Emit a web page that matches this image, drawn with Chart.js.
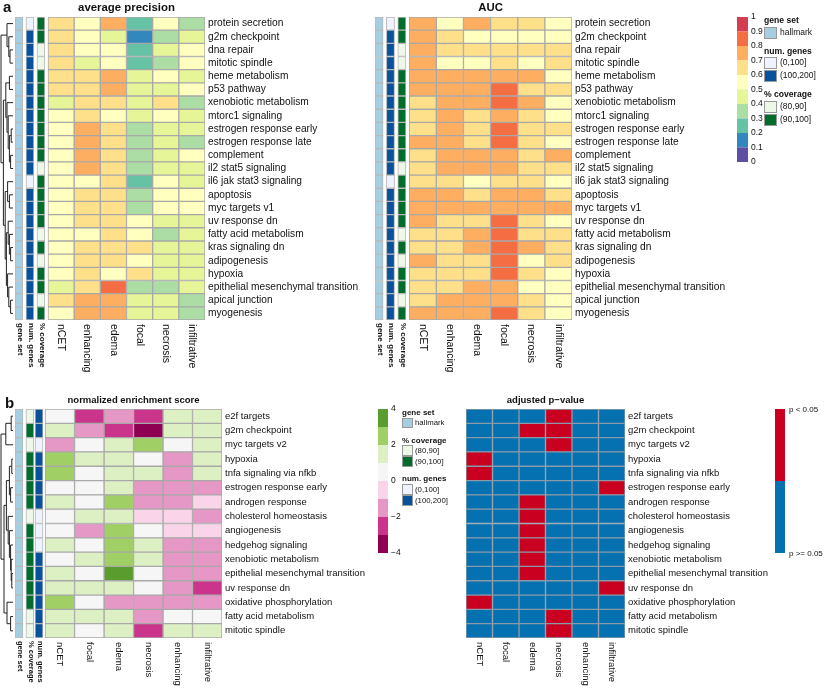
<!DOCTYPE html>
<html>
<head>
<meta charset="utf-8">
<script src="https://cdn.jsdelivr.net/npm/chart.js@4.4.0/dist/chart.umd.min.js"></script>
<style>
  body { margin: 0; background: #fff; }
  #wrap { position: relative; width: 830px; height: 692px; }
  canvas { position: absolute; }
</style>
</head>
<body>
<div id="wrap">
  <canvas id="apChart" style="left:0;top:0" width="360" height="390"></canvas>
  <canvas id="aucChart" style="left:360px;top:0" width="470" height="390"></canvas>
  <canvas id="nesChart" style="left:0;top:390px" width="460" height="302"></canvas>
  <canvas id="padjChart" style="left:460px;top:390px" width="370" height="302"></canvas>
</div>
<script>
const FONT = '"Liberation Sans", Arial, Helvetica, sans-serif';

// ---- panel a data ----
const setsA = ['protein secretion', 'g2m checkpoint', 'dna repair', 'mitotic spindle',
  'heme metabolism', 'p53 pathway', 'xenobiotic metabolism', 'mtorc1 signaling',
  'estrogen response early', 'estrogen response late', 'complement', 'il2 stat5 signaling',
  'il6 jak stat3 signaling', 'apoptosis', 'myc targets v1', 'uv response dn',
  'fatty acid metabolism', 'kras signaling dn', 'adipogenesis', 'hypoxia',
  'epithelial mesenchymal transition', 'apical junction', 'myogenesis'];
const regionsA = ['nCET', 'enhancing', 'edema', 'focal', 'necrosis', 'infiltrative'];

const avgPrecision = [
  [0.65, 0.55, 0.75, 0.25, 0.55, 0.35],
  [0.65, 0.55, 0.45, 0.15, 0.35, 0.45],
  [0.65, 0.55, 0.55, 0.25, 0.45, 0.55],
  [0.65, 0.45, 0.55, 0.25, 0.35, 0.55],
  [0.65, 0.65, 0.75, 0.45, 0.55, 0.45],
  [0.65, 0.65, 0.75, 0.45, 0.45, 0.55],
  [0.45, 0.65, 0.65, 0.45, 0.65, 0.35],
  [0.55, 0.65, 0.55, 0.45, 0.55, 0.45],
  [0.55, 0.75, 0.65, 0.35, 0.45, 0.45],
  [0.55, 0.75, 0.65, 0.35, 0.45, 0.35],
  [0.55, 0.75, 0.65, 0.35, 0.45, 0.55],
  [0.55, 0.75, 0.65, 0.35, 0.45, 0.45],
  [0.55, 0.55, 0.65, 0.25, 0.55, 0.45],
  [0.55, 0.65, 0.65, 0.35, 0.55, 0.55],
  [0.55, 0.65, 0.65, 0.35, 0.55, 0.55],
  [0.55, 0.65, 0.65, 0.55, 0.45, 0.45],
  [0.55, 0.55, 0.65, 0.55, 0.35, 0.45],
  [0.55, 0.65, 0.65, 0.65, 0.45, 0.45],
  [0.55, 0.65, 0.65, 0.55, 0.45, 0.45],
  [0.55, 0.65, 0.55, 0.65, 0.45, 0.45],
  [0.45, 0.65, 0.85, 0.35, 0.35, 0.45],
  [0.65, 0.75, 0.75, 0.45, 0.45, 0.35],
  [0.55, 0.75, 0.75, 0.45, 0.45, 0.35]
];

const auc = [
  [0.75, 0.55, 0.75, 0.65, 0.65, 0.55],
  [0.75, 0.65, 0.55, 0.55, 0.55, 0.55],
  [0.75, 0.65, 0.65, 0.65, 0.65, 0.65],
  [0.75, 0.55, 0.55, 0.65, 0.55, 0.65],
  [0.75, 0.75, 0.75, 0.75, 0.75, 0.55],
  [0.75, 0.75, 0.75, 0.85, 0.65, 0.65],
  [0.65, 0.75, 0.75, 0.85, 0.75, 0.55],
  [0.65, 0.75, 0.65, 0.75, 0.65, 0.55],
  [0.65, 0.75, 0.65, 0.85, 0.65, 0.65],
  [0.75, 0.75, 0.65, 0.85, 0.65, 0.55],
  [0.65, 0.75, 0.75, 0.75, 0.65, 0.75],
  [0.65, 0.75, 0.75, 0.75, 0.65, 0.65],
  [0.65, 0.65, 0.55, 0.65, 0.65, 0.55],
  [0.75, 0.75, 0.65, 0.75, 0.75, 0.65],
  [0.75, 0.75, 0.75, 0.75, 0.75, 0.75],
  [0.75, 0.65, 0.65, 0.85, 0.65, 0.55],
  [0.65, 0.65, 0.75, 0.85, 0.65, 0.65],
  [0.65, 0.65, 0.75, 0.85, 0.75, 0.65],
  [0.75, 0.65, 0.65, 0.85, 0.55, 0.65],
  [0.65, 0.65, 0.65, 0.85, 0.65, 0.55],
  [0.65, 0.65, 0.75, 0.75, 0.55, 0.55],
  [0.65, 0.75, 0.75, 0.75, 0.65, 0.55],
  [0.75, 0.75, 0.75, 0.85, 0.65, 0.55]
];

// 0 = (0,100], 1 = (100,200]
const numGenesA = [0,1,1,1,1,1,1,1,1,1,1,1,0,1,1,1,1,1,1,1,1,1,1];
// 0 = (80,90], 1 = (90,100]
const coverageA = [1,1,0,0,1,1,1,1,1,1,1,0,1,1,1,1,0,1,0,1,1,0,1];

// row clustering: [height, left, right], leaves are row indices
const treeA = [1,
  [0.5, 0, [0.35, 1, [0.25, 2, 3]]],
  [0.8,
    [0.6, [0.3, 4, 5], [0.5, 6, [0.4, 7, [0.3, [0.15, 8, 9], [0.2, 10, 11]]]]],
    [0.65, [0.45, 12, [0.3, 13, 14]],
      [0.55, [0.4, 15, [0.3, 16, [0.2, 17, 18]]], [0.45, 19, [0.35, 20, [0.2, 21, 22]]]]]]];

// ---- panel b data ----
const setsB = ['e2f targets', 'g2m checkpoint', 'myc targets v2', 'hypoxia',
  'tnfa signaling via nfkb', 'estrogen response early', 'androgen response',
  'cholesterol homeostasis', 'angiogenesis', 'hedgehog signaling', 'xenobiotic metabolism',
  'epithelial mesenchymal transition', 'uv response dn', 'oxidative phosphorylation',
  'fatty acid metabolism', 'mitotic spindle'];
const regionsB = ['nCET', 'focal', 'edema', 'necrosis', 'enhancing', 'infiltrative'];

const nes = [
  [0.5, -2.5, -1.5, -2.5, 1.5, 1.5],
  [1.5, -1.5, -2.5, -3.5, 1.5, 1.5],
  [-1.5, 0.5, 1.5, 2.5, 0.5, 1.5],
  [2.5, 1.5, 1.5, 0.5, -1.5, 1.5],
  [2.5, 0.5, 1.5, 1.5, -1.5, 1.5],
  [0.5, 0.5, 1.5, -1.5, -1.5, -1.5],
  [1.5, 0.5, 2.5, -1.5, -1.5, -0.5],
  [0.5, 1.5, 1.5, -0.5, -0.5, -1.5],
  [0.5, -1.5, 2.5, 0.5, -0.5, -0.5],
  [1.5, 0.5, 2.5, 1.5, -1.5, -1.5],
  [0.5, 1.5, 2.5, 1.5, -1.5, -1.5],
  [1.5, 0.5, 3.5, 0.5, -1.5, -1.5],
  [1.5, 1.5, 1.5, 0.5, -1.5, -2.5],
  [2.5, 0.5, -1.5, -1.5, -1.5, -1.5],
  [1.5, 1.5, 1.5, -1.5, 0.5, 0.5],
  [1.5, 0.5, 1.5, -2.5, 1.5, 1.5]
];

// 1 = p < 0.05, 0 = p >= 0.05
const padjSig = [
  [0,0,0,1,0,0],
  [0,0,1,1,0,0],
  [0,0,0,1,0,0],
  [1,0,0,0,0,0],
  [1,0,0,0,0,0],
  [0,0,0,0,0,1],
  [0,0,1,0,0,0],
  [0,0,1,0,0,0],
  [0,0,1,0,0,0],
  [0,0,1,0,0,0],
  [0,0,1,0,0,0],
  [0,0,1,0,0,0],
  [0,0,0,0,0,1],
  [1,0,0,0,0,0],
  [0,0,0,1,0,0],
  [0,0,0,1,0,0]
];

const coverageB = [0,1,0,1,1,1,1,0,1,1,1,1,1,1,0,0];
const numGenesB = [1,1,0,1,1,1,1,0,0,0,1,1,1,1,1,1];

const treeB = [1,
  [0.6, [0.15, 0, 1], 2],
  [0.75,
    [0.55, [0.3, [0.1, 3, 4], [0.2, 5, 6]],
      [0.4, 7, [0.3, 8, [0.2, 9, [0.15, 10, [0.1, 11, 12]]]]]],
    [0.5, 13, [0.2, 14, 15]]]];

// ---- colours ----
const spectral = ['#5e4fa2', '#3288bd', '#66c2a5', '#abdda4', '#e6f598',
  '#ffffbf', '#fee08b', '#fdae61', '#f46d43', '#d53e4f'];
const piyg = ['#8e0152', '#cb348b', '#e597c5', '#fad4e8', '#f6f6f6', '#ddf0c3', '#a0d065', '#5a9c2d'];
const geneSetCol = '#a6cee3';
const numGenesCols = ['#eff3ff', '#08519c'];
const coverageCols = ['#edf8e9', '#006d2c'];
const sigCols = ['#0571b0', '#ca0020'];

const spectralColor = v => spectral[Math.max(0, Math.min(9, Math.floor(v * 10)))];
const piygColor = v => piyg[Math.max(0, Math.min(7, Math.floor(v + 4)))];

function drawTree(ctx, tree, yScale, xLeft, xRight) {
  const w = xRight - xLeft;
  function walk(node) {
    if (typeof node === 'number') return { x: xRight, y: yScale.getPixelForValue(node) };
    const a = walk(node[1]), b = walk(node[2]);
    const x = xRight - node[0] * w;
    ctx.beginPath();
    ctx.moveTo(a.x, a.y); ctx.lineTo(x, a.y); ctx.lineTo(x, b.y); ctx.lineTo(b.x, b.y);
    ctx.stroke();
    return { x: x, y: (a.y + b.y) / 2 };
  }
  ctx.save();
  ctx.strokeStyle = '#222';
  ctx.lineWidth = 1;
  walk(tree);
  ctx.restore();
}

function makeHeatmap(id, p) {
  const canvas = document.getElementById(id);
  const W = canvas.width, H = canvas.height;
  const datasets = [];
  (p.annots || []).forEach(an => {
    datasets.push({
      data: p.rows.map(() => an.span),
      backgroundColor: an.values.map(an.color),
      borderColor: '#b8b8b8', borderWidth: 1, borderSkipped: false, grouped: false
    });
  });
  p.cols.forEach((c, j) => {
    datasets.push({
      data: p.rows.map(() => [j, j + 1]),
      backgroundColor: p.values.map(r => p.color(r[j])),
      borderColor: p.gridColor, borderWidth: 1, borderSkipped: false, grouped: false
    });
  });

  const decor = {
    id: 'decor',
    afterDraw(chart) {
      const ctx = chart.ctx, xs = chart.scales.x, ys = chart.scales.y;
      const area = chart.chartArea;
      ctx.save();
      ctx.fillStyle = '#111';
      // title
      ctx.font = 'bold ' + p.titleSize + 'px ' + FONT;
      ctx.textAlign = 'center'; ctx.textBaseline = 'middle';
      ctx.fillText(p.title, xs.getPixelForValue(p.cols.length / 2), p.titleY);
      // column labels, rotated clockwise
      ctx.textAlign = 'left';
      ctx.font = p.colSize + 'px ' + FONT;
      p.cols.forEach((c, j) => {
        ctx.save();
        ctx.translate(xs.getPixelForValue(j + 0.5), area.bottom + 4);
        ctx.rotate(Math.PI / 2);
        ctx.fillText(c, 0, 0);
        ctx.restore();
      });
      ctx.font = 'bold ' + p.annSize + 'px ' + FONT;
      (p.annots || []).forEach(an => {
        ctx.save();
        ctx.translate(xs.getPixelForValue((an.span[0] + an.span[1]) / 2) + 1, area.bottom + 3);
        ctx.rotate(Math.PI / 2);
        ctx.fillText(an.label, 0, 0);
        ctx.restore();
      });
      ctx.restore();
      if (p.tree) drawTree(ctx, p.tree, ys, 1, area.left - 2);
      if (p.extra) p.extra(ctx);
    }
  };

  return new Chart(canvas, {
    type: 'bar',
    data: { labels: p.rows, datasets: datasets },
    options: {
      indexAxis: 'y',
      responsive: false,
      animation: false,
      datasets: { bar: { barPercentage: 1, categoryPercentage: 1 } },
      layout: { padding: { left: p.area.left, top: p.area.top, right: 0, bottom: H - p.area.bottom } },
      plugins: { legend: { display: false }, tooltip: { enabled: false } },
      scales: {
        x: { type: 'linear', min: p.xMin, max: p.cols.length, display: false },
        y: {
          type: 'category', position: 'right',
          grid: { display: false, drawTicks: false }, border: { display: false },
          ticks: { autoSkip: false, padding: 3, color: '#111', font: { family: FONT, size: p.rowSize } },
          afterFit: s => { s.width = W - p.area.right; }
        }
      }
    },
    plugins: [decor]
  });
}

function txt(ctx, s, x, y, size, bold) {
  ctx.font = (bold ? 'bold ' : '') + size + 'px ' + FONT;
  ctx.textAlign = 'left'; ctx.textBaseline = 'middle';
  ctx.fillStyle = '#111';
  ctx.fillText(s, x, y);
}
function swatch(ctx, x, y, w, h, col) {
  ctx.fillStyle = col; ctx.fillRect(x, y, w, h);
  ctx.strokeStyle = '#999'; ctx.lineWidth = 1; ctx.strokeRect(x + 0.5, y + 0.5, w - 1, h - 1);
}

const annA = [
  { label: 'gene set', span: [-1.26, -0.96], values: setsA.map(() => 0), color: () => geneSetCol },
  { label: 'num. genes', span: [-0.84, -0.54], values: numGenesA, color: v => numGenesCols[v] },
  { label: '% coverage', span: [-0.42, -0.12], values: coverageA, color: v => coverageCols[v] }
];

makeHeatmap('apChart', {
  rows: setsA, cols: regionsA, values: avgPrecision, color: spectralColor, gridColor: '#a8a8a8',
  annots: annA, xMin: -1.26, area: { left: 15, top: 17, right: 205, bottom: 320 },
  title: 'average precision', titleY: 8, titleSize: 11.4, rowSize: 10.2, colSize: 10.5, annSize: 8,
  tree: treeA,
  extra: ctx => { txt(ctx, 'a', 3, 8, 15, true); }
});

makeHeatmap('aucChart', {
  rows: setsA, cols: regionsA, values: auc, color: spectralColor, gridColor: '#a8a8a8',
  annots: annA, xMin: -1.26, area: { left: 15, top: 17, right: 212, bottom: 320 },
  title: 'AUC', titleY: 8, titleSize: 11.4, rowSize: 10.2, colSize: 10.5, annSize: 8,
  extra: ctx => {
    const bh = 14.5;
    for (let k = 0; k < 10; k++) {
      ctx.fillStyle = spectral[9 - k];
      ctx.fillRect(377, 17 + k * bh, 11, bh);
    }
    for (let k = 0; k <= 10; k++) {
      txt(ctx, k === 0 ? '1' : k === 10 ? '0' : ((10 - k) / 10).toFixed(1), 391, 17 + k * bh, 8.5, false);
    }
    txt(ctx, 'gene set', 404, 21, 8.6, true);
    swatch(ctx, 404, 27, 13, 12, geneSetCol);
    txt(ctx, 'hallmark', 420, 33, 8.5, false);
    txt(ctx, 'num. genes', 404, 52, 8.6, true);
    swatch(ctx, 404, 57, 13, 12, numGenesCols[0]);
    swatch(ctx, 404, 70, 13, 12, numGenesCols[1]);
    txt(ctx, '(0,100]', 420, 63, 8.5, false);
    txt(ctx, '(100,200]', 420, 76, 8.5, false);
    txt(ctx, '% coverage', 404, 95, 8.6, true);
    swatch(ctx, 404, 101, 13, 12, coverageCols[0]);
    swatch(ctx, 404, 114, 13, 12, coverageCols[1]);
    txt(ctx, '(80,90]', 420, 107, 8.5, false);
    txt(ctx, '(90,100]', 420, 120, 8.5, false);
  }
});

makeHeatmap('nesChart', {
  rows: setsB, cols: regionsB, values: nes, color: piygColor, gridColor: '#a8a8a8',
  annots: [
    { label: 'gene set', span: [-1.02, -0.75], values: setsB.map(() => 0), color: () => geneSetCol },
    { label: '% coverage', span: [-0.65, -0.38], values: coverageB, color: v => coverageCols[v] },
    { label: 'num. genes', span: [-0.34, -0.07], values: numGenesB, color: v => numGenesCols[v] }
  ],
  xMin: -1.02, area: { left: 15, top: 19, right: 222, bottom: 248 },
  title: 'normalized enrichment score', titleY: 10, titleSize: 9.5, rowSize: 9.5, colSize: 9.5, annSize: 7.5,
  tree: treeB,
  extra: ctx => {
    txt(ctx, 'b', 5, 14, 15, true);
    for (let k = 0; k < 8; k++) {
      ctx.fillStyle = piyg[7 - k];
      ctx.fillRect(378, 19 + k * 18, 10, 18);
    }
    ['4', '2', '0', '\u22122', '\u22124'].forEach((s, k) => txt(ctx, s, 391, 19 + k * 36, 8.5, false));
    txt(ctx, 'gene set', 402, 23, 8, true);
    swatch(ctx, 402, 28, 11, 10, geneSetCol);
    txt(ctx, 'hallmark', 415, 33, 7.8, false);
    txt(ctx, '% coverage', 402, 51, 8, true);
    swatch(ctx, 402, 55, 11, 11, coverageCols[0]);
    swatch(ctx, 402, 66, 11, 11, coverageCols[1]);
    txt(ctx, '(80,90]', 415, 61, 7.8, false);
    txt(ctx, '(90,100]', 415, 72, 7.8, false);
    txt(ctx, 'num. genes', 402, 89, 8, true);
    swatch(ctx, 402, 94, 11, 11, numGenesCols[0]);
    swatch(ctx, 402, 105, 11, 11, numGenesCols[1]);
    txt(ctx, '(0,100]', 415, 100, 7.8, false);
    txt(ctx, '(100,200]', 415, 111, 7.8, false);
  }
});

makeHeatmap('padjChart', {
  rows: setsB, cols: regionsB, values: padjSig, color: v => sigCols[v], gridColor: '#8a9aa8',
  xMin: 0, area: { left: 6, top: 19, right: 165, bottom: 248 },
  title: 'adjusted p\u2212value', titleY: 10, titleSize: 9.5, rowSize: 9.5, colSize: 9.5,
  extra: ctx => {
    ctx.fillStyle = sigCols[1]; ctx.fillRect(315, 19, 10, 72);
    ctx.fillStyle = sigCols[0]; ctx.fillRect(315, 91, 10, 72);
    txt(ctx, 'p < 0.05', 329, 20, 8, false);
    txt(ctx, 'p >= 0.05', 329, 164, 8, false);
  }
});
</script>
</body>
</html>
